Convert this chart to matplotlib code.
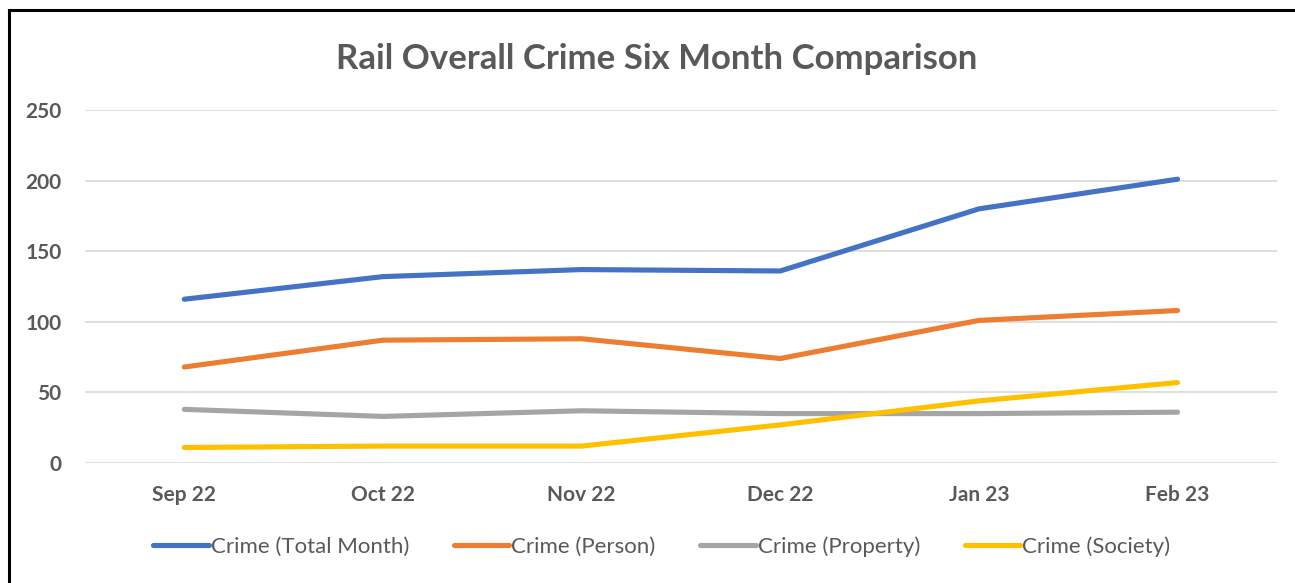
import matplotlib
matplotlib.use("Agg")
import matplotlib.pyplot as plt
from matplotlib.lines import Line2D

# six month values
months = ["Sep 22", "Oct 22", "Nov 22", "Dec 22", "Jan 23", "Feb 23"]
total_month = [116, 132, 137, 136, 180, 201]
person = [68, 87, 88, 74, 101, 108]
property_ = [38, 33, 37, 35, 35, 36]
society = [11, 12, 12, 27, 44, 57]

series = [
    ("Crime (Total Month)", total_month, "#4472C4"),
    ("Crime (Person)", person, "#ED7D31"),
    ("Crime (Property)", property_, "#A5A5A5"),
    ("Crime (Society)", society, "#FFC000"),
]

txt = "#595959"
plt.rcParams["font.family"] = ["Lato", "DejaVu Sans"]

fig = plt.figure(figsize=(12.95, 5.83), dpi=100)
ax = fig.add_axes([0.0656, 0.2058, 0.9204, 0.6055])

x = list(range(len(months)))
for name, vals, col in series:
    ax.plot(x, vals, color=col, lw=3.7, label=name, solid_capstyle="round")

ax.set_xlim(-0.5, len(months) - 0.5)
ax.set_ylim(0, 250)
ax.set_yticks(range(0, 251, 50))
ax.set_xticks(x)
ax.set_xticklabels(months)
ax.grid(axis="y", color="#D9D9D9", lw=1.2)
ax.set_axisbelow(True)
for s in ax.spines.values():
    s.set_visible(False)
ax.tick_params(length=0, labelsize=15, labelcolor=txt)
ax.tick_params(axis="x", pad=16)
ax.tick_params(axis="y", pad=17)
for lab in ax.get_xticklabels() + ax.get_yticklabels():
    lab.set_fontweight("bold")

fig.text(0.507, 0.899, "Rail Overall Crime Six Month Comparison", ha="center", va="center",
         fontsize=25, fontweight="bold", color=txt)

leg = fig.legend(loc="center", bbox_to_anchor=(0.511, 0.062), ncol=4, frameon=False,
                 fontsize=16, handlelength=2.5, handletextpad=0.1, columnspacing=2.0)
for t in leg.get_texts():
    t.set_color(txt)

# frame edges visible at top and left of the screenshot
fig.add_artist(Line2D([0.0073, 0.0073], [0, 0.983], color="black", lw=2.2, transform=fig.transFigure))
fig.add_artist(Line2D([0.0073, 1], [0.983, 0.983], color="black", lw=2.2, transform=fig.transFigure))

fig.savefig("out.png", dpi=100, facecolor="white")
